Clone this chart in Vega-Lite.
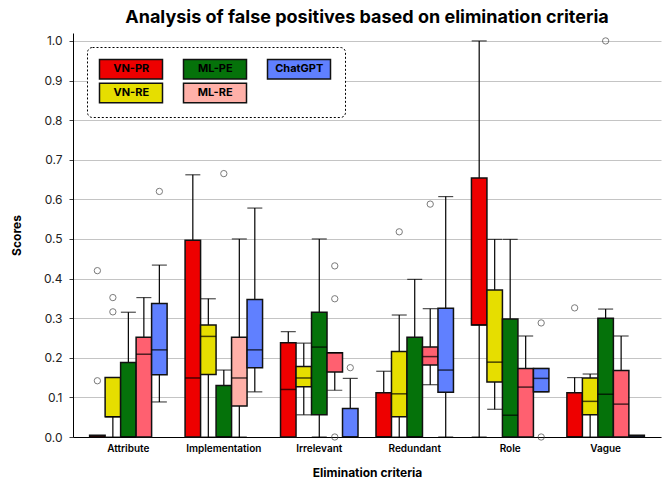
{
  "$schema": "https://vega.github.io/schema/vega-lite/v6.json",
  "width": 588,
  "height": 404,
  "autosize": {"type": "none"},
  "padding": {"left": 73, "top": 33, "right": 7, "bottom": 50},
  "background": "white",
  "title": {
    "text": "Analysis of false positives based on elimination criteria",
    "font": "Inter",
    "fontSize": 18,
    "fontWeight": "bold",
    "color": "#000",
    "anchor": "middle",
    "offset": 6
  },
  "config": {
    "view": {"stroke": null},
    "axis": {"labelFont": "Inter", "titleFont": "Inter", "labelColor": "#222", "titleColor": "#000"}
  },
  "datasets": {
    "boxes": [
      {"category": "Attribute", "series": "VN-PR", "lower": 0, "q1": 0, "median": 0, "q3": 0.0045, "upper": 0},
      {"category": "Attribute", "series": "VN-RE", "lower": 0, "q1": 0.051, "median": 0.051, "q3": 0.15, "upper": 0.15},
      {"category": "Attribute", "series": "ML-PE", "lower": 0, "q1": 0, "median": 0, "q3": 0.188, "upper": 0.315},
      {"category": "Attribute", "series": "ML-RE", "lower": 0, "q1": 0, "median": 0.209, "q3": 0.252, "upper": 0.352},
      {"category": "Attribute", "series": "ChatGPT", "lower": 0.0885, "q1": 0.157, "median": 0.22, "q3": 0.337, "upper": 0.434},
      {"category": "Implementation", "series": "VN-PR", "lower": 0, "q1": 0, "median": 0.149, "q3": 0.497, "upper": 0.662},
      {"category": "Implementation", "series": "VN-RE", "lower": 0, "q1": 0.158, "median": 0.254, "q3": 0.283, "upper": 0.349},
      {"category": "Implementation", "series": "ML-PE", "lower": 0, "q1": 0, "median": 0, "q3": 0.13, "upper": 0.169},
      {"category": "Implementation", "series": "ML-RE", "lower": 0, "q1": 0.078, "median": 0.149, "q3": 0.252, "upper": 0.5},
      {"category": "Implementation", "series": "ChatGPT", "lower": 0.114, "q1": 0.175, "median": 0.22, "q3": 0.347, "upper": 0.578},
      {"category": "Irrelevant", "series": "VN-PR", "lower": 0, "q1": 0, "median": 0.12, "q3": 0.238, "upper": 0.266},
      {"category": "Irrelevant", "series": "VN-RE", "lower": 0.056, "q1": 0.127, "median": 0.149, "q3": 0.178, "upper": 0.237},
      {"category": "Irrelevant", "series": "ML-PE", "lower": 0, "q1": 0.056, "median": 0.227, "q3": 0.315, "upper": 0.5},
      {"category": "Irrelevant", "series": "ML-RE", "lower": 0.118, "q1": 0.164, "median": 0.213, "q3": 0.213, "upper": 0.213},
      {"category": "Irrelevant", "series": "ChatGPT", "lower": 0, "q1": 0, "median": 0, "q3": 0.072, "upper": 0.148},
      {"category": "Redundant", "series": "VN-PR", "lower": 0, "q1": 0, "median": 0, "q3": 0.112, "upper": 0.166},
      {"category": "Redundant", "series": "VN-RE", "lower": 0, "q1": 0.051, "median": 0.109, "q3": 0.216, "upper": 0.308},
      {"category": "Redundant", "series": "ML-PE", "lower": 0, "q1": 0, "median": 0, "q3": 0.252, "upper": 0.398},
      {"category": "Redundant", "series": "ML-RE", "lower": 0.132, "q1": 0.182, "median": 0.203, "q3": 0.227, "upper": 0.324},
      {"category": "Redundant", "series": "ChatGPT", "lower": 0, "q1": 0.113, "median": 0.169, "q3": 0.325, "upper": 0.607},
      {"category": "Role", "series": "VN-PR", "lower": 0, "q1": 0.283, "median": 0.283, "q3": 0.654, "upper": 1.0},
      {"category": "Role", "series": "VN-RE", "lower": 0.07, "q1": 0.139, "median": 0.189, "q3": 0.371, "upper": 0.499},
      {"category": "Role", "series": "ML-PE", "lower": 0, "q1": 0, "median": 0.055, "q3": 0.298, "upper": 0.499},
      {"category": "Role", "series": "ML-RE", "lower": 0, "q1": 0, "median": 0.126, "q3": 0.173, "upper": 0.255},
      {"category": "Role", "series": "ChatGPT", "lower": 0.114, "q1": 0.114, "median": 0.148, "q3": 0.173, "upper": 0.173},
      {"category": "Vague", "series": "VN-PR", "lower": 0, "q1": 0, "median": 0, "q3": 0.112, "upper": 0.15},
      {"category": "Vague", "series": "VN-RE", "lower": 0, "q1": 0.056, "median": 0.09, "q3": 0.149, "upper": 0.159},
      {"category": "Vague", "series": "ML-PE", "lower": 0, "q1": 0, "median": 0.108, "q3": 0.3, "upper": 0.323},
      {"category": "Vague", "series": "ML-RE", "lower": 0, "q1": 0, "median": 0.083, "q3": 0.168, "upper": 0.255},
      {"category": "Vague", "series": "ChatGPT", "lower": 0, "q1": 0, "median": 0, "q3": 0.0045, "upper": 0}
    ],
    "outliers": [
      {"category": "Attribute", "series": "VN-PR", "value": 0.42},
      {"category": "Attribute", "series": "VN-PR", "value": 0.142},
      {"category": "Attribute", "series": "VN-RE", "value": 0.352},
      {"category": "Attribute", "series": "VN-RE", "value": 0.316},
      {"category": "Attribute", "series": "ChatGPT", "value": 0.62},
      {"category": "Implementation", "series": "ML-PE", "value": 0.665},
      {"category": "Irrelevant", "series": "ML-RE", "value": 0.432},
      {"category": "Irrelevant", "series": "ML-RE", "value": 0.349},
      {"category": "Irrelevant", "series": "ML-RE", "value": 0.0},
      {"category": "Irrelevant", "series": "ChatGPT", "value": 0.175},
      {"category": "Redundant", "series": "VN-RE", "value": 0.518},
      {"category": "Redundant", "series": "ML-RE", "value": 0.588},
      {"category": "Role", "series": "ChatGPT", "value": 0.288},
      {"category": "Role", "series": "ChatGPT", "value": 0.0},
      {"category": "Vague", "series": "VN-PR", "value": 0.326},
      {"category": "Vague", "series": "ML-PE", "value": 1.0}
    ]
  },
  "encoding": {
    "x": {
      "field": "category",
      "type": "nominal",
      "sort": ["Attribute", "Implementation", "Irrelevant", "Redundant", "Role", "Vague"],
      "scale": {"paddingInner": 0, "paddingOuter": 0.08},
      "axis": {
        "title": "Elimination criteria",
        "titleFontSize": 12,
        "titleFontWeight": "bold",
        "titlePadding": 14,
        "labelAngle": 0,
        "labelFontSize": 10,
        "labelFontWeight": 600,
        "labelColor": "#000",
        "labelPadding": 6,
        "ticks": false,
        "domainColor": "#000",
        "domainWidth": 1.2
      }
    },
    "xOffset": {
      "field": "series",
      "type": "nominal",
      "sort": ["VN-PR", "VN-RE", "ML-PE", "ML-RE", "ChatGPT"],
      "scale": {"paddingInner": 0, "paddingOuter": 0.58}
    }
  },
  "layer": [
    {
      "data": {"name": "boxes"},
      "mark": {"type": "rule", "color": "#000", "strokeWidth": 1.2},
      "encoding": {
        "y": {
          "field": "lower",
          "type": "quantitative",
          "scale": {"domain": [0, 1.02], "nice": false, "zero": true},
          "axis": {
            "title": "Scores",
            "titleFontSize": 12,
            "titleFontWeight": "bold",
            "titlePadding": 20,
            "values": [0, 0.1, 0.2, 0.3, 0.4, 0.5, 0.6, 0.7, 0.8, 0.9, 1.0],
            "format": ".1f",
            "labelFontSize": 12,
            "labelPadding": 7,
            "tickSize": 4,
            "tickColor": "#444",
            "domainColor": "#000",
            "domainWidth": 1,
            "gridColor": "#c4c4c4",
            "gridWidth": 1
          }
        },
        "y2": {"field": "upper"}
      }
    },
    {
      "data": {"name": "boxes"},
      "mark": {"type": "tick", "color": "#000", "size": 15, "thickness": 1.2},
      "encoding": {"y": {"field": "lower", "type": "quantitative"}}
    },
    {
      "data": {"name": "boxes"},
      "mark": {"type": "tick", "color": "#000", "size": 15, "thickness": 1.2},
      "encoding": {"y": {"field": "upper", "type": "quantitative"}}
    },
    {
      "data": {"name": "boxes"},
      "mark": {"type": "bar", "stroke": "#111", "strokeWidth": 1.5},
      "encoding": {
        "y": {"field": "q1", "type": "quantitative"},
        "y2": {"field": "q3"},
        "fill": {
          "field": "series",
          "type": "nominal",
          "scale": {
            "domain": ["VN-PR", "VN-RE", "ML-PE", "ML-RE", "ChatGPT"],
            "range": ["#EE0000", "#E6DE00", "#05720A", "#FFB0A8", "#6080FF"]
          },
          "condition": {"test": "datum.series === 'ML-RE' && datum.category !== 'Implementation'", "value": "#FF6070"},
          "legend": {
            "title": null,
            "orient": "none",
            "legendX": 14,
            "legendY": 14,
            "columns": 3,
            "columnPadding": 14,
            "rowPadding": -6,
            "padding": 11,
            "strokeColor": "#000",
            "cornerRadius": 5,
            "fillColor": "white",
            "symbolType": "M-3.15,-0.975H3.15V0.975H-3.15Z",
            "symbolSize": 400,
            "symbolOffset": 22,
            "symbolStrokeColor": "#111",
            "symbolStrokeWidth": 1.5,
            "labelOffset": -10.75,
            "labelAlign": "center",
            "labelFont": "Inter",
            "labelFontSize": 11,
            "labelFontWeight": "bold",
            "labelColor": "#000",
            "encode": {
              "legend": {"update": {"strokeDash": {"value": [2, 2]}, "strokeWidth": {"value": 1}}}
            }
          }
        }
      }
    },
    {
      "data": {"name": "boxes"},
      "mark": {"type": "tick", "color": "#000", "size": 15.5, "thickness": 1.5},
      "encoding": {"y": {"field": "median", "type": "quantitative"}}
    },
    {
      "data": {"name": "outliers"},
      "mark": {"type": "point", "shape": "circle", "filled": false, "stroke": "#444", "strokeWidth": 1, "size": 40},
      "encoding": {"y": {"field": "value", "type": "quantitative"}}
    }
  ]
}
